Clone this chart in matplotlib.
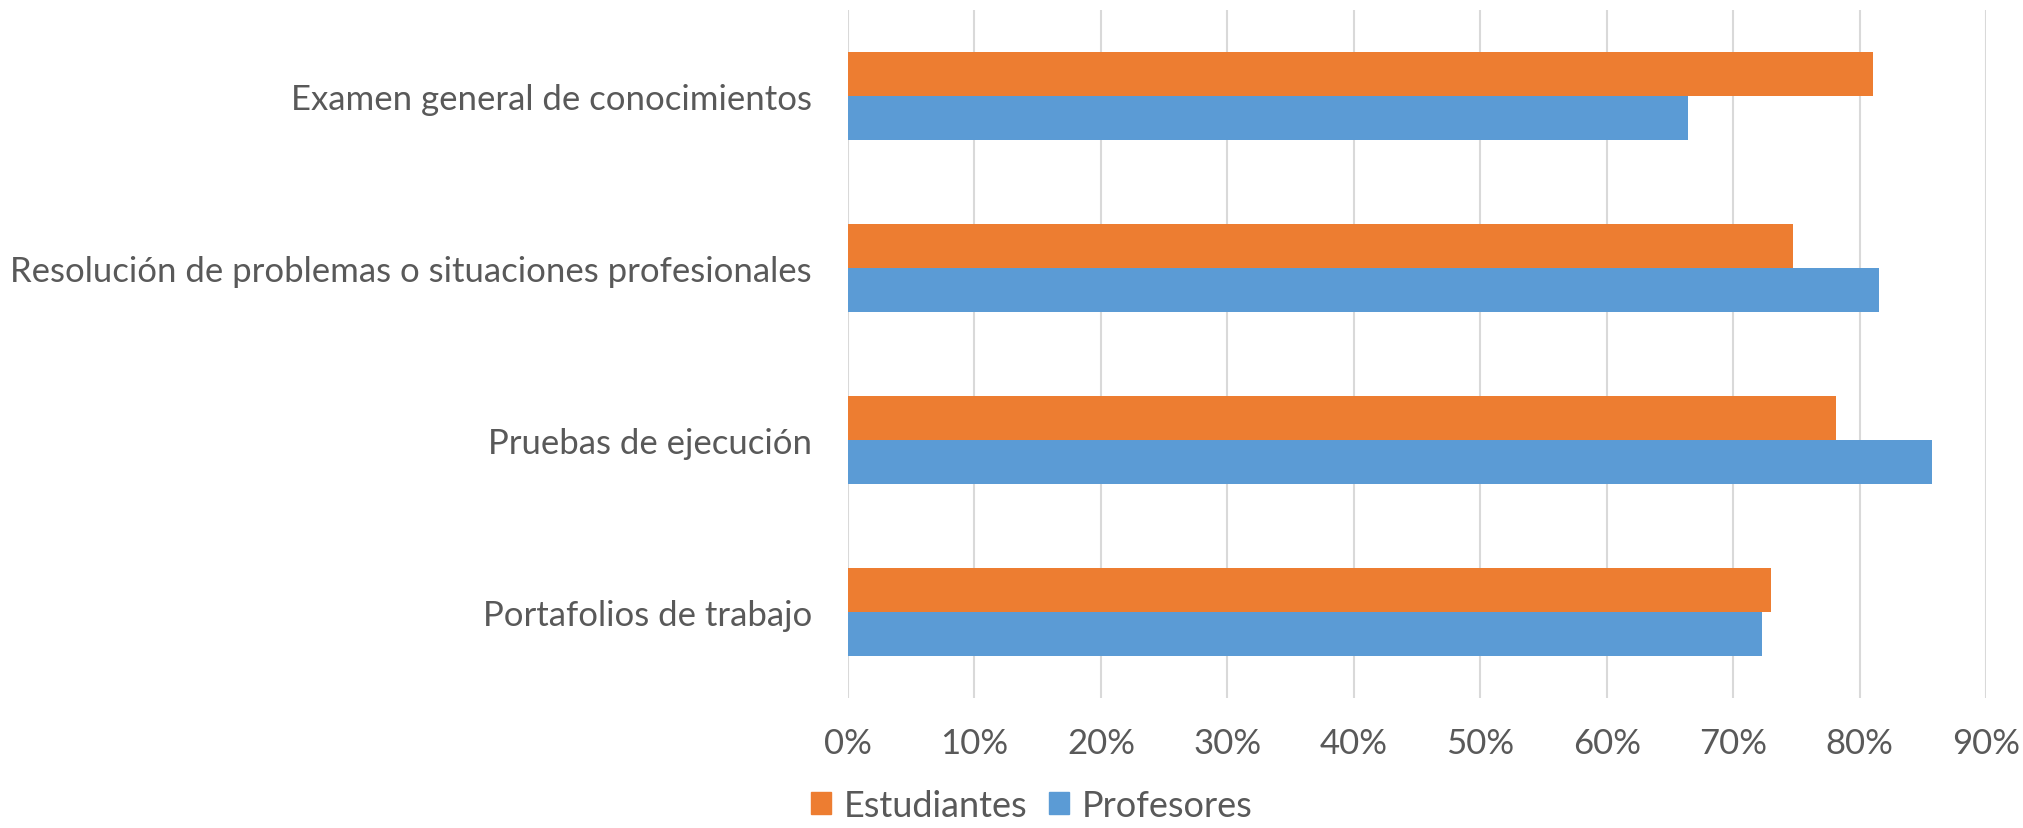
import matplotlib.pyplot as plt
import numpy as np
from matplotlib.patches import Patch

categorias = [
    "Examen general de conocimientos",
    "Resolución de problemas o situaciones profesionales",
    "Pruebas de ejecución",
    "Portafolios de trabajo",
]
estudiantes = [81.1, 74.7, 78.1, 73.0]
profesores = [66.4, 81.5, 85.7, 72.3]
ticks = [0, 10, 20, 30, 40, 50, 60, 70, 80, 90]

naranja = "#ED7D31"
azul = "#5B9BD5"
gris_texto = "#595959"

plt.rcParams['font.family'] = ['Lato', 'DejaVu Sans']

fig = plt.figure(figsize=(20.23, 8.29), dpi=100)
ax = fig.add_axes([0.4192, 0.157, 0.5625, 0.8297])

y = np.arange(len(categorias))
h = 0.256
ax.barh(y - h / 2, estudiantes, height=h, color=naranja, label="Estudiantes", zorder=2)
ax.barh(y + h / 2, profesores, height=h, color=azul, label="Profesores", zorder=2)

ax.set_xlim(0, 90)
ax.set_ylim(len(categorias) - 0.5, -0.5)
ax.set_xticks(ticks)
ax.set_xticklabels([f"{t}%" for t in ticks])
ax.set_yticks(y)
ax.set_yticklabels(categorias)

ax.grid(axis='x', color="#D9D9D9", linewidth=1.5, zorder=0)
for s in ax.spines.values():
    s.set_visible(False)
ax.tick_params(axis='both', length=0, labelsize=25, labelcolor=gris_texto)
ax.tick_params(axis='x', pad=21)
ax.tick_params(axis='y', pad=26)

handles = [Patch(color=naranja), Patch(color=azul)]
fig.legend(handles, ["Estudiantes", "Profesores"], loc='lower center', bbox_to_anchor=(0.51, -0.032),
           ncol=2, frameon=False, fontsize=26, labelcolor=gris_texto,
           handlelength=0.55, handleheight=0.55, handletextpad=0.35, columnspacing=0.6)

fig.savefig("out.png", dpi=100)
